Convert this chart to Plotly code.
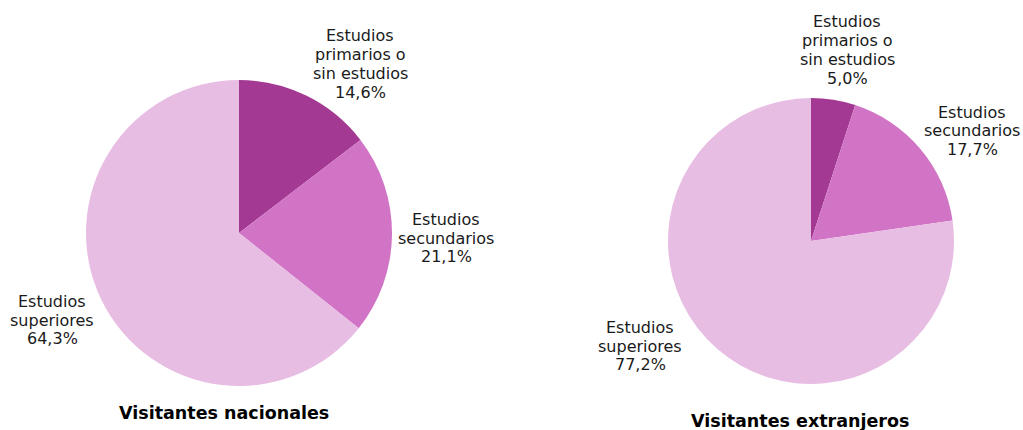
import plotly.graph_objects as go

W, H = 1023, 430

categories = ["Estudios primarios o sin estudios", "Estudios secundarios", "Estudios superiores"]
nacionales = [14.6, 21.1, 64.3]
extranjeros = [5.0, 17.7, 77.2]
titles = ["Visitantes nacionales", "Visitantes extranjeros"]
label_lines = [["Estudios", "primarios o", "sin estudios"], ["Estudios", "secundarios"], ["Estudios", "superiores"]]

colors = ["#A43993", "#D174C6", "#E8BDE3"]
FONT = "DejaVu Sans, Verdana, sans-serif"

def px(x, y):
    return x / W, 1 - y / H

def dom(cx, cy, r):
    return dict(x=[(cx - r) / W, (cx + r) / W], y=[1 - (cy + r) / H, 1 - (cy - r) / H])

fig = go.Figure()
pies = [(nacionales, (239, 233, 153)), (extranjeros, (811, 241, 143))]
for vals, (cx, cy, r) in pies:
    fig.add_trace(go.Pie(
        labels=categories, values=vals, sort=False, direction="clockwise", rotation=0,
        marker=dict(colors=colors, line=dict(width=0)), textinfo="none", hoverinfo="label+percent",
        domain=dom(cx, cy, r), showlegend=False,
    ))

def fmt(v):
    return f"{v:.1f}".replace(".", ",") + "%"

# label block centers (pixels)
label_pos = [
    [(360, 64), (446, 238), (52, 320)],
    [(847, 50), (972, 131), (640, 346)],
]
LH = 18.8
ann = []
for vals, pos in zip([nacionales, extranjeros], label_pos):
    for i, (cx, cy) in enumerate(pos):
        lines = label_lines[i] + [fmt(vals[i])]
        n = len(lines)
        for k, t in enumerate(lines):
            y = cy + (k - (n - 1) / 2) * LH
            xx, yy = px(cx, y)
            ann.append(dict(text=t, x=xx, y=yy, xref="paper", yref="paper", showarrow=False,
                            xanchor="center", yanchor="middle", font=dict(family=FONT, size=16, color="#1a1a1a")))

for t, (cx, cy) in zip(titles, [(224, 413), (800, 421)]):
    xx, yy = px(cx, cy)
    ann.append(dict(text=f"<b>{t}</b>", x=xx, y=yy, xref="paper", yref="paper", showarrow=False,
                    xanchor="center", yanchor="middle", font=dict(family=FONT, size=17.5, color="#000000")))

fig.update_layout(width=W, height=H, margin=dict(l=0, r=0, t=0, b=0),
                  paper_bgcolor="white", plot_bgcolor="white", annotations=ann)
fig.write_html("out.html", config={"displayModeBar": False},
               post_script="document.body.style.margin='0';document.body.style.overflow='hidden';")
